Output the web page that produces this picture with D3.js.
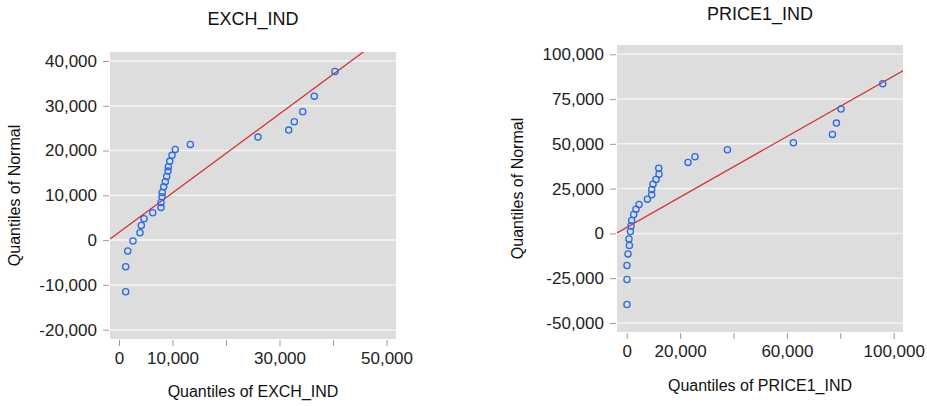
<!DOCTYPE html>
<html>
<head>
<meta charset="utf-8">
<script src="https://cdn.jsdelivr.net/npm/d3@7"></script>
<style>
  body { margin: 0; background: #fff; }
  svg { display: block; font-family: "Liberation Sans", Arial, sans-serif; }
</style>
</head>
<body>
<svg id="chart" width="927" height="406"></svg>
<script>
// EXCH_IND quantiles (x) vs quantiles of normal (y)
const exchX = [1250, 1250, 1630, 2620, 3920, 4170, 4670, 6300, 7850, 7850, 8040, 8090, 8350, 8650,
  8920, 9160, 9220, 9480, 9910, 10520, 13330, 25980, 31720, 32770, 34340, 36500, 40370];
const exchY = [-11520, -5940, -2430, -200, 1650, 3280, 4760, 6100, 7300, 8420, 9670, 10650, 11900, 13020,
  14220, 15410, 16370, 17580, 18920, 20250, 21370, 23000, 24560, 26420, 28650, 32140, 37650];

// PRICE1_IND quantiles (x) vs quantiles of normal (y)
const priceX = [100, 100, 100, 490, 1010, 860, 1390, 1610, 1870, 2620, 3480, 4610, 7750, 9360,
  9360, 9850, 10970, 12100, 11990, 22960, 25580, 37720, 62430, 77040, 78540, 80260, 95880];
const priceY = [-39740, -25770, -17940, -11460, -6760, -3080, 1060, 4190, 7210, 10560, 13530, 16150, 19120, 21520,
  24540, 27500, 30130, 33090, 36440, 39630, 42760, 46670, 50580, 55280, 61590, 69420, 83560];

// reference lines: intercept, slope
const exchLine = [1730, 0.882];
const priceLine = [3350, 0.8453];

const exchXTicks = [0, 10000, 20000, 30000, 40000, 50000];
const exchXLabels = [0, 10000, 30000, 50000];
const exchYTicks = [-20000, -10000, 0, 10000, 20000, 30000, 40000];

const priceXTicks = [0, 20000, 40000, 60000, 80000, 100000];
const priceXLabels = [0, 20000, 60000, 100000];
const priceYTicks = [-50000, -25000, 0, 25000, 50000, 75000, 100000];

const panels = [
  {
    id: "a", title: "EXCH_IND", xTitle: "Quantiles of EXCH_IND",
    xs: exchX, ys: exchY, line: exchLine,
    xTicks: exchXTicks, xLabels: exchXLabels, yTicks: exchYTicks,
    xDomain: [-1682, 51776], yDomain: [-22086, 42004],
    left: 110, right: 396, top: 52, bottom: 339,
    titleY: 25, yTitleX: 20, xTitleY: 397
  },
  {
    id: "b", title: "PRICE1_IND", xTitle: "Quantiles of PRICE1_IND",
    xs: priceX, ys: priceY, line: priceLine,
    xTicks: priceXTicks, xLabels: priceXLabels, yTicks: priceYTicks,
    xDomain: [-3633, 103483], yDomain: [-55052, 105186],
    left: 617, right: 903, top: 45, bottom: 332,
    titleY: 20, yTitleX: 523, xTitleY: 391
  }
];

// plain hyphen for negatives, like the original
const fmt = d => d3.format(",")(d).replace("\u2212", "-");
const svg = d3.select("#chart");

panels.forEach(p => {
  const x = d3.scaleLinear().domain(p.xDomain).range([p.left, p.right]);
  const y = d3.scaleLinear().domain(p.yDomain).range([p.bottom, p.top]);
  const g = svg.append("g");

  g.append("rect")
    .attr("x", p.left).attr("y", p.top)
    .attr("width", p.right - p.left).attr("height", p.bottom - p.top)
    .attr("fill", "#dddddd");

  // horizontal grid
  g.selectAll(".grid").data(p.yTicks).enter().append("line")
    .attr("x1", p.left).attr("x2", p.right)
    .attr("y1", d => y(d)).attr("y2", d => y(d))
    .attr("stroke", "#f4f4f4").attr("stroke-width", 1.5);

  // y axis
  const yAxis = g.append("g")
    .attr("transform", `translate(${p.left - 1},0)`)
    .call(d3.axisLeft(y).tickValues(p.yTicks).tickFormat(fmt).tickSize(6).tickPadding(6));
  yAxis.select(".domain").remove();
  yAxis.selectAll(".tick line").attr("stroke", "#9a9a9a");
  yAxis.selectAll(".tick text").attr("fill", "#222").style("font-size", "17px")
    .style("font-family", "Liberation Sans, Arial, sans-serif");

  // x axis
  const xAxis = g.append("g")
    .attr("transform", `translate(0,${p.bottom + 1})`)
    .call(d3.axisBottom(x).tickValues(p.xTicks)
      .tickFormat(d => p.xLabels.includes(d) ? fmt(d) : "").tickSize(6).tickPadding(6));
  xAxis.select(".domain").remove();
  xAxis.selectAll(".tick line").attr("stroke", "#9a9a9a");
  xAxis.selectAll(".tick text").attr("fill", "#222").style("font-size", "17px")
    .style("font-family", "Liberation Sans, Arial, sans-serif");

  // reference line, clipped to the plot
  g.append("clipPath").attr("id", "clip-" + p.id)
    .append("rect")
    .attr("x", p.left).attr("y", p.top)
    .attr("width", p.right - p.left).attr("height", p.bottom - p.top);

  const lx = p.xDomain;
  g.append("path")
    .datum(lx.map(v => [v, p.line[0] + p.line[1] * v]))
    .attr("clip-path", `url(#clip-${p.id})`)
    .attr("fill", "none")
    .attr("stroke", "#d42a2a")
    .attr("stroke-width", 1.2)
    .attr("d", d3.line().x(d => x(d[0])).y(d => y(d[1])));

  // points
  g.selectAll(".pt").data(p.xs.map((v, i) => [v, p.ys[i]])).enter().append("circle")
    .attr("cx", d => x(d[0])).attr("cy", d => y(d[1]))
    .attr("r", 3.1)
    .attr("fill", "none")
    .attr("stroke", "#2a6ae6")
    .attr("stroke-width", 1.3);

  // titles
  const cx = (p.left + p.right) / 2;
  g.append("text")
    .attr("x", cx).attr("y", p.titleY)
    .attr("text-anchor", "middle")
    .style("font-size", "18px").attr("fill", "#111")
    .text(p.title);

  g.append("text")
    .attr("x", cx).attr("y", p.xTitleY)
    .attr("text-anchor", "middle")
    .style("font-size", "16px").attr("fill", "#111")
    .text(p.xTitle);

  g.append("text")
    .attr("transform", `translate(${p.yTitleX},${(p.top + p.bottom) / 2}) rotate(-90)`)
    .attr("text-anchor", "middle")
    .style("font-size", "16px").attr("fill", "#111")
    .text("Quantiles of Normal");
});
</script>
</body>
</html>
